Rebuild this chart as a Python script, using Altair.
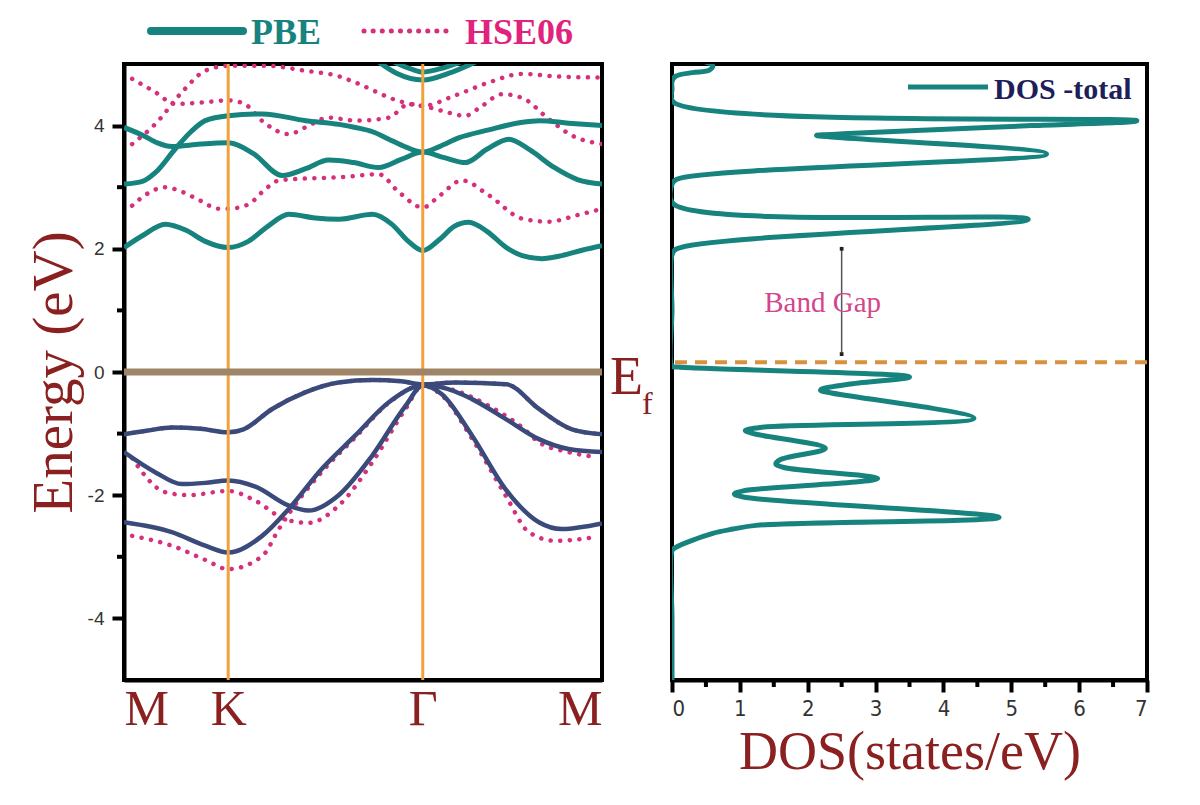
import altair as alt
import pandas as pd

# ---------------- data ----------------
k_ticks = [0.0, 0.218, 0.625, 1.0]
k_labels = ["M", "K", "Γ", "M"]
e_major = [-4, -2, 0, 2, 4]
e_minor = [-3, -1, 1, 3]
dos_major = [0, 1, 2, 3, 4, 5, 6, 7]
dos_minor = [0.5, 1.5, 2.5, 3.5, 4.5, 5.5, 6.5]
fermi_level = 0.0

# PBE bands (k, E)
pbe_c1 = [(0.0, 2.02), (0.04, 2.22), (0.086, 2.40), (0.13, 2.30), (0.17, 2.12), (0.218, 2.02),
          (0.26, 2.12), (0.30, 2.36), (0.345, 2.56), (0.40, 2.50), (0.45, 2.48), (0.52, 2.56),
          (0.56, 2.40), (0.595, 2.12), (0.625, 1.97), (0.66, 2.15), (0.69, 2.36), (0.721, 2.43),
          (0.76, 2.28), (0.80, 2.02), (0.833, 1.89), (0.874, 1.84), (0.916, 1.89), (0.96, 1.98), (1.0, 2.05)]
pbe_c2 = [(0.0, 3.05), (0.04, 3.10), (0.066, 3.24), (0.107, 3.62), (0.14, 3.90), (0.17, 4.08),
          (0.218, 4.16), (0.29, 4.19), (0.38, 4.08), (0.45, 4.02), (0.484, 3.97), (0.52, 3.90),
          (0.554, 3.78), (0.59, 3.65), (0.625, 3.57), (0.66, 3.66), (0.70, 3.80), (0.763, 3.93),
          (0.83, 4.05), (0.87, 4.08), (0.93, 4.04), (1.0, 4.0)]
pbe_c3 = [(0.0, 3.97), (0.04, 3.84), (0.07, 3.72), (0.10, 3.66), (0.16, 3.70), (0.218, 3.72),
          (0.27, 3.55), (0.331, 3.19), (0.38, 3.30), (0.428, 3.44), (0.48, 3.40), (0.533, 3.32),
          (0.58, 3.45), (0.625, 3.57), (0.67, 3.48), (0.714, 3.40), (0.76, 3.62), (0.805, 3.78),
          (0.85, 3.60), (0.90, 3.32), (0.95, 3.12), (1.0, 3.05)]
pbe_c4 = [(0.53, 5.05), (0.57, 4.85), (0.625, 4.74), (0.68, 4.85), (0.74, 5.05)]
pbe_c5 = [(0.56, 5.05), (0.60, 4.92), (0.625, 4.87), (0.66, 4.92), (0.71, 5.05)]
pbe_v1 = [(0.0, -1.01), (0.05, -0.95), (0.10, -0.90), (0.16, -0.92), (0.218, -0.98), (0.25, -0.93),
          (0.31, -0.60), (0.379, -0.33), (0.449, -0.17), (0.52, -0.13), (0.58, -0.15), (0.625, -0.20),
          (0.693, -0.17), (0.80, -0.20), (0.868, -0.60), (0.937, -0.93), (1.0, -1.01)]
pbe_v2 = [(0.0, -1.30), (0.066, -1.63), (0.121, -1.82), (0.17, -1.80), (0.218, -1.76), (0.275, -1.86),
          (0.345, -2.17), (0.386, -2.25), (0.449, -2.0), (0.519, -1.36), (0.589, -0.55), (0.625, -0.22),
          (0.665, -0.25), (0.728, -0.44), (0.798, -0.76), (0.868, -1.09), (0.93, -1.25), (1.0, -1.30)]
pbe_v3 = [(0.0, -2.44), (0.10, -2.60), (0.17, -2.82), (0.218, -2.93), (0.289, -2.66), (0.345, -2.22),
          (0.414, -1.57), (0.484, -1.03), (0.554, -0.49), (0.625, -0.22), (0.665, -0.36), (0.728, -1.03),
          (0.798, -1.90), (0.868, -2.44), (0.916, -2.55), (1.0, -2.46)]

# HSE06 bands (k, E)
hse_c1 = [(0.017, 2.70), (0.05, 2.90), (0.086, 3.0), (0.12, 2.93), (0.16, 2.78), (0.198, 2.65),
          (0.218, 2.65), (0.26, 2.72), (0.296, 2.97), (0.324, 3.11), (0.379, 3.14), (0.45, 3.16),
          (0.533, 3.21), (0.575, 2.92), (0.625, 2.67), (0.66, 2.86), (0.707, 3.11), (0.763, 2.87),
          (0.833, 2.49), (0.888, 2.44), (0.95, 2.55), (1.0, 2.65)]
hse_c2 = [(0.017, 3.70), (0.066, 4.03), (0.121, 4.54), (0.17, 4.89), (0.218, 4.97), (0.30, 4.97),
          (0.379, 4.89), (0.45, 4.80), (0.484, 4.70), (0.575, 4.40), (0.625, 4.32), (0.693, 4.49),
          (0.763, 4.70), (0.833, 4.84), (0.90, 4.80), (1.0, 4.78)]
hse_c3 = [(0.017, 4.76), (0.066, 4.54), (0.107, 4.35), (0.17, 4.38), (0.218, 4.41), (0.25, 4.36),
          (0.296, 4.03), (0.345, 3.86), (0.379, 3.97), (0.428, 4.13), (0.484, 4.08), (0.554, 4.13),
          (0.596, 4.35), (0.625, 4.32), (0.665, 4.24), (0.714, 4.16), (0.749, 4.32), (0.791, 4.51),
          (0.833, 4.45), (0.888, 4.11), (0.937, 3.84), (1.0, 3.70)]
hse_v1 = [(0.0, -1.01), (0.05, -0.95), (0.10, -0.90), (0.16, -0.92), (0.218, -0.98), (0.25, -0.93),
          (0.31, -0.60), (0.379, -0.33), (0.449, -0.17), (0.52, -0.13), (0.58, -0.15), (0.625, -0.20),
          (0.693, -0.17), (0.80, -0.20), (0.868, -0.60), (0.937, -0.93), (1.0, -1.01)]
hse_v2 = [(0.017, -1.40), (0.086, -1.95), (0.135, -2.0), (0.218, -1.93), (0.275, -2.09), (0.337, -2.39),
          (0.386, -2.45), (0.449, -2.17), (0.519, -1.47), (0.589, -0.60), (0.625, -0.22), (0.693, -0.30),
          (0.763, -0.55), (0.833, -0.90), (0.868, -1.14), (0.93, -1.30), (0.986, -1.38)]
hse_v3 = [(0.017, -2.66), (0.10, -2.82), (0.17, -3.05), (0.218, -3.20), (0.289, -2.99), (0.324, -2.55),
          (0.345, -2.30), (0.414, -1.62), (0.484, -1.06), (0.554, -0.50), (0.625, -0.22), (0.665, -0.38),
          (0.728, -1.08), (0.798, -2.0), (0.847, -2.60), (0.902, -2.74), (0.986, -2.68)]

# total DOS (energy, states/eV)
dos_energy = [5.05, 4.97, 4.90, 4.86, 4.80, 4.72, 4.60, 4.38, 4.08, 4.00, 3.92, 3.87, 3.84, 3.81,
              3.54, 3.13, 3.05, 2.73, 2.48, 2.00, 1.90, 1.00, 0.10, 0.08, -0.08, -0.20, -0.28,
              -0.30, -0.34, -0.75, -0.90, -0.95, -1.00, -1.24, -1.42, -1.49, -1.55, -1.73, -1.93,
              -1.98, -2.03, -2.36, -2.49, -2.55, -2.62, -2.85, -2.90, -4.0, -5.05]
dos_value = [0.45, 0.60, 0.55, 0.30, 0.05, 0.0, 0.0, 0.02, 6.85, 5.30, 3.60, 2.60, 2.13, 2.40,
             5.52, 0.07, 0.0, 0.02, 5.25, 0.07, 0.0, 0.0, 0.0, 0.10, 3.50, 2.60, 2.20,
             2.19, 2.35, 4.45, 1.30, 1.08, 1.20, 2.26, 1.60, 1.53, 1.65, 3.03, 1.05,
             0.92, 1.05, 4.82, 1.24, 0.90, 0.60, 0.05, 0.0, 0.0, 0.0]

legend_labels = ["PBE", "HSE06"]
dos_legend_label = ["DOS -total"]
fermi_label = ["E", "f"]
gap_label = ["Band Gap"]
gap_dos = 2.5
gap_bottom, gap_top = 0.29, 2.0
gap_text_pos = (2.22, 0.97)
dos_fermi = 0.16

# ---------------- styles ----------------
TEAL = "#17837E"
NAVY = "#3A4A7B"
PINK = "#D6307C"
ORANGE = "#F2A23C"
BROWN = "#9F8567"
RED = "#8B2020"
SERIF = "Liberation Serif"
SANS = "Liberation Sans"

rows = []
for name, method, pts in [("c1", "PBE", pbe_c1), ("c2", "PBE", pbe_c2), ("c3", "PBE", pbe_c3),
                          ("c4", "PBE", pbe_c4), ("c5", "PBE", pbe_c5),
                          ("v1", "PBEv", pbe_v1), ("v2", "PBEv", pbe_v2), ("v3", "PBEv", pbe_v3),
                          ("hc1", "HSE06", hse_c1), ("hc2", "HSE06", hse_c2), ("hc3", "HSE06", hse_c3),
                          ("hv1", "HSE06", hse_v1), ("hv2", "HSE06", hse_v2), ("hv3", "HSE06", hse_v3)]:
    for i, (k, e) in enumerate(pts):
        rows.append({"band": name, "method": method, "k": k, "E": e, "i": i})
bands = pd.DataFrame(rows)

W1, W2, H = 478, 475, 616

label_expr = " : ".join(
    [f"abs(datum.value - {v}) < 0.01 ? '{l}'" for v, l in zip(k_ticks, k_labels)]) + " : ''"

xk = alt.X("k:Q", scale=alt.Scale(domain=[0, 1], nice=False, zero=False),
           axis=alt.Axis(values=k_ticks, labelExpr=label_expr, ticks=False, grid=False, title=None,
                         labelFont=SERIF, labelFontSize=50, labelColor=RED, labelFlush=True,
                         labelPadding=4, domainColor="black", domainWidth=4))
ye = alt.Y("E:Q", scale=alt.Scale(domain=[-5, 5], nice=False, zero=False),
           axis=alt.Axis(values=e_major, grid=False, title="Energy (eV)",
                         labelExpr="datum.value < 0 ? '-' + abs(datum.value) : '' + datum.value",
                         tickSize=12, tickWidth=4, tickColor="black", labelFont=SANS, labelFontSize=19,
                         labelColor="#333333", labelPadding=8, domainColor="black", domainWidth=4,
                         titleFont=SERIF, titleFontSize=57, titleFontWeight="normal", titleColor=RED,
                         titlePadding=4))

base = alt.Chart(bands)
hse = base.transform_filter("datum.method == 'HSE06'").mark_line(
    color=PINK, strokeWidth=4.5, strokeDash=[0.1, 9.5], strokeCap="round", clip=True,
    interpolate="monotone"
).encode(x=xk, y=ye, detail="band:N", order="i:Q")
pbe = base.transform_filter("datum.method == 'PBE'").mark_line(
    color=TEAL, strokeWidth=5, clip=True, interpolate="monotone"
).encode(x="k:Q", y="E:Q", detail="band:N", order="i:Q")
pbev = base.transform_filter("datum.method == 'PBEv'").mark_line(
    color=NAVY, strokeWidth=4.5, clip=True, interpolate="monotone"
).encode(x="k:Q", y="E:Q", detail="band:N", order="i:Q")

sym = alt.Chart(pd.DataFrame({"k": k_ticks[1:3]})).mark_rule(color=ORANGE, strokeWidth=3).encode(x="k:Q")
ef = alt.Chart(pd.DataFrame({"E": [fermi_level]})).mark_rule(color=BROWN, strokeWidth=7).encode(y="E:Q")
minor_y = alt.Chart(pd.DataFrame({"E": e_minor})).mark_rule(color="black", strokeWidth=4).encode(
    y="E:Q", x=alt.value(-7), x2=alt.value(0))

leg = pd.DataFrame({"t": legend_labels})
leg_line = alt.Chart(leg.iloc[:1]).mark_rule(color=TEAL, strokeWidth=8, strokeCap="round").encode(
    x=alt.value(27), x2=alt.value(119), y=alt.value(-33))
leg_dots = alt.Chart(leg.iloc[1:]).mark_rule(color=PINK, strokeWidth=5, strokeDash=[0.1, 9], strokeCap="round").encode(
    x=alt.value(240), x2=alt.value(328), y=alt.value(-33))
leg_t1 = alt.Chart(leg.iloc[:1]).mark_text(align="left", baseline="alphabetic", font=SERIF, fontWeight="bold",
                                           fontSize=36, color=TEAL).encode(
    x=alt.value(127), y=alt.value(-20), text="t:N")
leg_t2 = alt.Chart(leg.iloc[1:]).mark_text(align="left", baseline="alphabetic", font=SERIF, fontWeight="bold",
                                           fontSize=36, color="#E0237D").encode(
    x=alt.value(341), y=alt.value(-20), text="t:N")
fl = pd.DataFrame({"t": fermi_label})
ef_E = alt.Chart(fl.iloc[:1]).mark_text(align="left", baseline="alphabetic", font=SERIF, fontSize=54,
                                        color=RED).encode(x=alt.value(486), y=alt.value(330), text="t:N")
ef_f = alt.Chart(fl.iloc[1:]).mark_text(align="left", baseline="alphabetic", font=SERIF, fontSize=32,
                                        color=RED).encode(x=alt.value(518), y=alt.value(350), text="t:N")

left = alt.layer(hse, pbe, pbev, sym, ef, minor_y, leg_line, leg_dots, leg_t1, leg_t2, ef_E, ef_f).properties(
    width=W1, height=H)

# ---------------- DOS panel ----------------
dos = pd.DataFrame({"E": dos_energy, "dos": dos_value, "i": range(len(dos_energy))})
xd = alt.X("dos:Q", scale=alt.Scale(domain=[0, 7], nice=False, zero=False),
           axis=alt.Axis(values=dos_major, grid=False, title="DOS(states/eV)", format="d",
                         tickSize=12, tickWidth=4, tickColor="black", labelFont="DejaVu Sans Condensed",
                         labelFontSize=22, labelColor="#333333", labelPadding=6, domainColor="black",
                         domainWidth=4, titleFont=SERIF, titleFontSize=54, titleFontWeight="normal",
                         titleColor=RED, titlePadding=6))
yd = alt.Y("E:Q", scale=alt.Scale(domain=[-5, 5], nice=False, zero=False), axis=None)

dos_line = alt.Chart(dos).mark_line(color=TEAL, strokeWidth=5, clip=True, interpolate="catmull-rom").encode(
    x=xd, y=yd, order="i:Q")
minor_x = alt.Chart(pd.DataFrame({"dos": dos_minor})).mark_rule(color="black", strokeWidth=4).encode(
    x="dos:Q", y=alt.value(H), y2=alt.value(H + 7))
dfermi = alt.Chart(pd.DataFrame({"E": [dos_fermi]})).mark_rule(
    color="#D8913F", strokeWidth=4, strokeDash=[12, 8]).encode(y=alt.Y("E:Q", axis=None))
gap = pd.DataFrame({"dos": [gap_dos], "E": [gap_bottom], "E2": [gap_top]})
gap_rule = alt.Chart(gap).mark_rule(color="#555555", strokeWidth=1.5).encode(x="dos:Q", y="E:Q", y2="E2:Q")
gap_ends = alt.Chart(pd.DataFrame({"dos": [gap_dos, gap_dos], "E": [gap_bottom, gap_top]})).mark_point(
    shape="square", filled=True, size=14, color="#222222", opacity=1).encode(x="dos:Q", y="E:Q")
gap_text = alt.Chart(pd.DataFrame({"dos": [gap_text_pos[0]], "E": [gap_text_pos[1]], "t": gap_label})).mark_text(
    font=SERIF, fontSize=29, color="#D4468C", baseline="alphabetic", align="center").encode(
    x="dos:Q", y="E:Q", text="t:N")
dl = pd.DataFrame({"t": dos_legend_label})
dleg_line = alt.Chart(dl).mark_rule(color=TEAL, strokeWidth=5).encode(
    x=alt.value(236), x2=alt.value(316), y=alt.value(23))
dleg_text = alt.Chart(dl).mark_text(align="left", baseline="alphabetic", font=SERIF, fontWeight="bold",
                                    fontSize=30, color="#1E1E5A").encode(
    x=alt.value(322), y=alt.value(35), text="t:N")

right = alt.layer(dos_line, dfermi, minor_x, gap_rule, gap_ends, gap_text, dleg_line, dleg_text).properties(
    width=W2, height=H)

chart = alt.hconcat(left, right, spacing=70, bounds="flush").properties(
    padding={"left": 15, "top": 5, "right": 5, "bottom": 5}
).configure_view(stroke="black", strokeWidth=4)

chart.save("out.html", embed_options={"renderer": "svg", "actions": False})
